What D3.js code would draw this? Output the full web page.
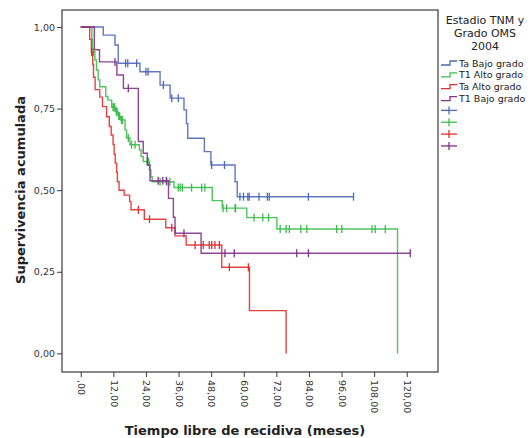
<!DOCTYPE html>
<html>
<head>
<meta charset="utf-8">
<script src="https://cdn.jsdelivr.net/npm/d3@7/dist/d3.min.js"></script>
<style>
  html, body { margin: 0; padding: 0; background: #fff; }
  svg { display: block; font-family: "DejaVu Sans", sans-serif; }
</style>
</head>
<body>
<svg id="chart" width="531" height="438"></svg>
<script>
// Kaplan-Meier curves: event times (months) and cumulative survival after each event
const taBajoTimes = [0, 8.3, 12.6, 13.8, 21.8, 29.2, 32.9, 38.0, 38.9, 39.4, 45.5, 47.9, 56.8, 57.6];
const taBajoSurv  = [1, 0.975, 0.945, 0.889, 0.863, 0.822, 0.782, 0.746, 0.704, 0.659, 0.618, 0.577, 0.526, 0.480];
const taBajoCens  = [16.5, 17.3, 20.6, 24.0, 24.8, 30.4, 33.5, 35.9, 48.2, 52.9, 58.6, 59.9, 61.5, 62.0, 65.6, 68.7, 69.4, 83.8, 100.4];

const t1AltoTimes = [0, 4.1, 4.3, 5.2, 5.8, 6.4, 7.0, 9.2, 10.0, 11.4, 12.8, 13.8, 14.6, 16.3, 16.9, 18.1, 21.6, 22.2, 23.0, 25.3, 25.8, 26.3, 34.3, 48.4, 52.1, 61.1, 72.2, 116.6];
const t1AltoSurv  = [1, 0.962, 0.924, 0.899, 0.868, 0.838, 0.817, 0.787, 0.776, 0.754, 0.740, 0.727, 0.715, 0.684, 0.660, 0.639, 0.623, 0.603, 0.588, 0.562, 0.541, 0.526, 0.508, 0.468, 0.445, 0.416, 0.381, 0];
const t1AltoCens  = [4.6, 11.9, 12.2, 12.5, 13.1, 13.4, 14.0, 14.3, 15.0, 15.3, 17.5, 18.7, 20.0, 24.5, 24.9, 29.2, 31.7, 32.8, 35.9, 36.6, 37.4, 40.8, 44.5, 45.7, 52.4, 53.7, 56.8, 57.0, 63.8, 67.0, 69.1, 73.4, 75.6, 76.8, 81.0, 83.2, 94.2, 96.1, 107.2, 108.4, 112.1];

const taAltoTimes = [0, 3.3, 3.9, 4.4, 4.7, 5.3, 7.0, 8.0, 9.5, 10.5, 11.2, 11.9, 12.3, 12.7, 13.2, 13.5, 14.1, 16.0, 18.0, 18.5, 23.4, 31.3, 34.7, 38.8, 51.9, 62.1, 75.6];
const taAltoSurv  = [1, 0.962, 0.923, 0.885, 0.846, 0.808, 0.785, 0.756, 0.725, 0.695, 0.669, 0.640, 0.610, 0.583, 0.555, 0.526, 0.500, 0.485, 0.465, 0.440, 0.411, 0.385, 0.360, 0.332, 0.264, 0.131, 0];
const taAltoCens  = [4.0, 21.2, 25.3, 33.5, 42.1, 45.1, 47.3, 48.2, 49.4, 51.0, 54.7, 61.7];

const t1BajoTimes = [0, 5.0, 6.9, 13.3, 15.7, 21.2, 23.0, 24.5, 25.5, 32.3, 34.1, 34.7, 44.3];
const t1BajoSurv  = [1, 0.93, 0.893, 0.853, 0.812, 0.649, 0.613, 0.577, 0.529, 0.475, 0.417, 0.368, 0.307];
const t1BajoCens  = [12.6, 17.5, 28.5, 30.2, 31.5, 38.0, 53.1, 56.5, 79.5, 83.8, 121.3];

const groupNames  = ["Ta Bajo grado", "T1 Alto grado", "Ta Alto grado", "T1 Bajo grado"];
const groupColors = ["#4e68b8", "#3cbd4a", "#e0302f", "#82308c"];

const xTicks = [0, 12, 24, 36, 48, 60, 72, 84, 96, 108, 120];
const xTickLabels = [",00", "12,00", "24,00", "36,00", "48,00", "60,00", "72,00", "84,00", "96,00", "108,00", "120,00"];
const yTicks = [0, 0.25, 0.5, 0.75, 1];
const yTickLabels = ["0,00", "0,25", "0,50", "0,75", "1,00"];

const legendTitle = ["Estadio TNM y", "Grado OMS", "2004"];
const xTitle = "Tiempo libre de recidiva (meses)";
const yTitle = "Supervivencia acumulada";

const series = [
  { times: taBajoTimes, surv: taBajoSurv, cens: taBajoCens },
  { times: t1AltoTimes, surv: t1AltoSurv, cens: t1AltoCens },
  { times: taAltoTimes, surv: taAltoSurv, cens: taAltoCens },
  { times: t1BajoTimes, surv: t1BajoSurv, cens: t1BajoCens }
].map((s, i) => ({ ...s, name: groupNames[i], color: groupColors[i] }));

const frame = { left: 62, top: 10, right: 438, bottom: 372 };

const svg = d3.select("#chart");

const x = d3.scaleLinear().domain([-6.9, 131.5]).range([frame.left, frame.right]);
const y = d3.scaleLinear().domain([-0.057, 1.052]).range([frame.bottom, frame.top]);

// survival value in effect at time t
function survAt(s, t) {
  let v = s.surv[0];
  for (let i = 0; i < s.times.length; i++) {
    if (s.times[i] <= t) v = s.surv[i]; else break;
  }
  return v;
}

// plot frame
svg.append("rect")
  .attr("x", frame.left).attr("y", frame.top)
  .attr("width", frame.right - frame.left).attr("height", frame.bottom - frame.top)
  .attr("fill", "none").attr("stroke", "#3a3a3a").attr("stroke-width", 1.2);

// y axis
const yAxis = svg.append("g")
  .attr("transform", `translate(${frame.left},0)`)
  .call(d3.axisLeft(y).tickValues(yTicks).tickSize(5).tickPadding(2)
    .tickFormat((d, i) => yTickLabels[i]));
yAxis.select(".domain").remove();
yAxis.selectAll("line").attr("stroke", "#3a3a3a");
yAxis.selectAll("text").attr("font-size", 9.5).attr("fill", "#333")
  .attr("font-family", "DejaVu Sans, sans-serif");

// x axis with labels turned to read downward
const xAxis = svg.append("g")
  .attr("transform", `translate(0,${frame.bottom})`)
  .call(d3.axisBottom(x).tickValues(xTicks).tickSize(5)
    .tickFormat((d, i) => xTickLabels[i]));
xAxis.select(".domain").remove();
xAxis.selectAll("line").attr("stroke", "#3a3a3a");
xAxis.selectAll("text")
  .attr("font-size", 9.5).attr("fill", "#333")
  .attr("font-family", "DejaVu Sans, sans-serif")
  .attr("transform", "rotate(90)")
  .attr("x", 8).attr("y", 0).attr("dy", "0.35em")
  .attr("text-anchor", "start");

// axis titles
svg.append("text")
  .attr("transform", "translate(25,190) rotate(-90)")
  .attr("text-anchor", "middle")
  .attr("font-size", 13).attr("font-weight", "bold").attr("fill", "#222")
  .text(yTitle);

svg.append("text")
  .attr("x", 245).attr("y", 435)
  .attr("text-anchor", "middle")
  .attr("font-size", 13).attr("font-weight", "bold").attr("fill", "#222")
  .text(xTitle);

// survival curves
const line = d3.line()
  .x(d => x(d[0])).y(d => y(d[1]))
  .curve(d3.curveStepAfter);

const plot = svg.append("g");

series.forEach(s => {
  const pts = s.times.map((t, i) => [t, s.surv[i]]);
  const lastT = s.times[s.times.length - 1];
  const maxCens = d3.max(s.cens);
  if (maxCens > lastT) pts.push([maxCens, s.surv[s.surv.length - 1]]);
  plot.append("path")
    .datum(pts)
    .attr("d", line)
    .attr("fill", "none")
    .attr("stroke", s.color)
    .attr("stroke-width", 1.4)
    .attr("stroke-opacity", 0.9);

  plot.selectAll(null)
    .data(s.cens)
    .join("line")
    .attr("x1", d => x(d)).attr("x2", d => x(d))
    .attr("y1", d => y(survAt(s, d)) - 4)
    .attr("y2", d => y(survAt(s, d)) + 4)
    .attr("stroke", s.color)
    .attr("stroke-width", 1.3);
});

// legend
const legend = svg.append("g");
legend.selectAll("text.title")
  .data(legendTitle)
  .join("text")
  .attr("class", "title")
  .attr("x", 485).attr("y", (d, i) => 24 + i * 13)
  .attr("text-anchor", "middle")
  .attr("font-size", 11).attr("fill", "#222")
  .text(d => d);

const itemY0 = 63, itemStep = 11.85;
series.forEach((s, i) => {
  const cy = itemY0 + i * itemStep;
  legend.append("path")
    .attr("d", `M441,${cy + 2}H450V${cy - 2}H457`)
    .attr("fill", "none").attr("stroke", s.color).attr("stroke-width", 1.3);
  legend.append("text")
    .attr("x", 459).attr("y", cy + 3.5)
    .attr("font-size", 9.5).attr("fill", "#222")
    .text(s.name);

  const cy2 = itemY0 + (i + 4) * itemStep;
  legend.append("line")
    .attr("x1", 441).attr("x2", 457).attr("y1", cy2).attr("y2", cy2)
    .attr("stroke", s.color).attr("stroke-width", 1.3);
  legend.append("line")
    .attr("x1", 449).attr("x2", 449).attr("y1", cy2 - 4).attr("y2", cy2 + 4)
    .attr("stroke", s.color).attr("stroke-width", 1.3);
});
</script>
</body>
</html>
